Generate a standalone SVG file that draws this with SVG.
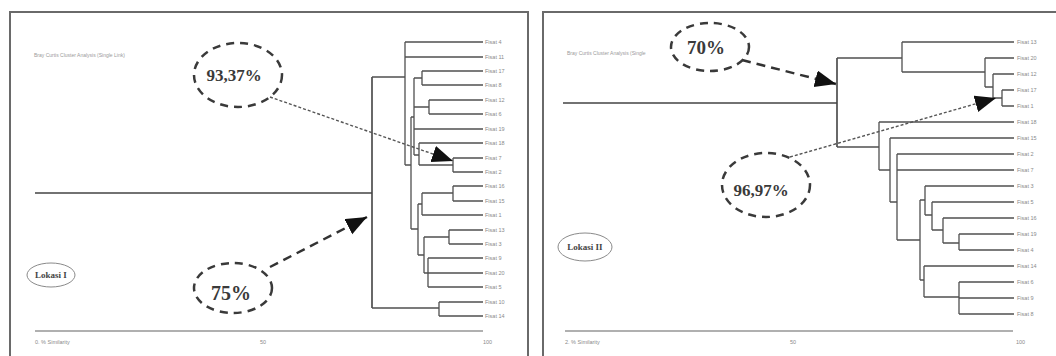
<svg xmlns="http://www.w3.org/2000/svg" width="1056" height="356" viewBox="0 0 1056 356">
<style>
.panel{fill:#fff;stroke:#6a6a6a;stroke-width:2}
.tree{fill:none;stroke:#505050;stroke-width:1.3}
.root{fill:none;stroke:#444;stroke-width:1.6}
.axis{fill:none;stroke:#b0b0b0;stroke-width:2}
.lbl{font-family:"Liberation Sans",Arial,sans-serif;font-size:5.5px;fill:#8a8a8a}
.small{font-family:"Liberation Sans",Arial,sans-serif;font-size:5px;fill:#9a9a9a}
.pct{font-family:"Liberation Serif","Times New Roman",serif;font-weight:bold;fill:#3a3a3a;text-anchor:middle}
.oval{fill:none;stroke:#3a3a3a;stroke-width:2.5;stroke-dasharray:8 6}
.lok{fill:#fff;stroke:#8a8a8a;stroke-width:1}
.lokt{font-family:"Liberation Serif","Times New Roman",serif;font-weight:bold;font-size:9px;fill:#444;text-anchor:middle}
.thick{fill:none;stroke:#333;stroke-width:2.5;stroke-dasharray:9 6}
.fine{fill:none;stroke:#555;stroke-width:1.4;stroke-dasharray:3 2}
</style>
<defs>
<marker id="ah" markerUnits="userSpaceOnUse" markerWidth="24" markerHeight="18" refX="21" refY="8.5" orient="auto">
<path d="M0,0 L21,8.5 L0,17 Z" fill="#111"/>
</marker>
</defs>
<rect width="1056" height="356" fill="#fff"/>

<g id="panel-left">
<rect class="panel" x="10" y="12" width="518" height="360"/>
<text class="small" x="34" y="57">Bray Curtis Cluster Analysis (Single Link)</text>
<line class="axis" x1="35" y1="331" x2="483" y2="331"/>
<text class="lbl" x="35" y="344">0.  % Similarity</text>
<text class="lbl" x="260" y="344">50</text>
<text class="lbl" x="483" y="344">100</text>
</g>

<g id="tree-left">
<path class="root" d="M35,193 H372 M372,77 V308"/>
<path class="tree" d="M372,77 H405 M405,42 V165 M405,42 H483 M405,57 H483 M405,165 H411
M411,117 V229 M411,117 H414 M414,78 V155
M414,78 H422 M422,71 V85 M422,71 H483 M422,85 H483
M414,107 H429 M429,100 V114 M429,100 H483 M429,114 H483
M414,129 H483
M414,155 H419 M419,143 V165 M419,143 H483 M419,165 H453 M453,158 V172 M453,158 H483 M453,172 H483
M411,229 H418 M418,204 V255
M418,204 H422 M422,193 V215 M422,215 H483 M422,193 H453 M453,186 V201 M453,186 H483 M453,201 H483
M418,255 H424 M424,237 V273 M424,237 H449 M449,230 V244 M449,230 H483 M449,244 H483
M424,273 H428 M428,258 V287 M428,258 H483 M428,273 H483 M428,287 H483
M372,308 H439 M439,302 V316 M439,302 H483 M439,316 H483"/>
<g class="lbl">
<text x="485" y="44">Fisat 4</text>
<text x="485" y="59">Fisat 11</text>
<text x="485" y="73">Fisat 17</text>
<text x="485" y="87">Fisat 8</text>
<text x="485" y="102">Fisat 12</text>
<text x="485" y="116">Fisat 6</text>
<text x="485" y="131">Fisat 19</text>
<text x="485" y="145">Fisat 18</text>
<text x="485" y="160">Fisat 7</text>
<text x="485" y="174">Fisat 2</text>
<text x="485" y="188">Fisat 16</text>
<text x="485" y="203">Fisat 15</text>
<text x="485" y="217">Fisat 1</text>
<text x="485" y="232">Fisat 13</text>
<text x="485" y="246">Fisat 3</text>
<text x="485" y="260">Fisat 9</text>
<text x="485" y="275">Fisat 20</text>
<text x="485" y="289">Fisat 5</text>
<text x="485" y="304">Fisat 10</text>
<text x="485" y="318">Fisat 14</text>
</g>
</g>

<g id="panel-right">
<rect class="panel" x="543" y="12" width="530" height="360"/>
<text class="small" x="567" y="55" font-size="4.6">Bray Curtis Cluster Analysis (Single</text>
<line class="axis" x1="565" y1="331" x2="1013" y2="331"/>
<text class="lbl" x="565" y="344">2.  % Similarity</text>
<text class="lbl" x="790" y="344">50</text>
<text class="lbl" x="1016" y="344">100</text>
</g>

<g id="tree-right">
<path class="root" d="M563,103 H837 M837,58 V147"/>
<path class="tree" d="M837,58 H902 M902,42 V72 M902,42 H1014 M902,72 H985 M985,58 V87 M985,58 H1014 M985,87 H993 M993,74 V98 M993,74 H1014 M993,98 H1002 M1002,90 V106 M1002,90 H1014 M1002,106 H1014
M837,147 H879 M879,122 V170 M879,122 H1014 M879,170 H890 M890,138 V202 M890,138 H1014 M890,202 H897
M897,154 V240 M897,154 H1014 M897,170 H1014 M897,240 H920 M920,200 V280
M920,200 H925 M925,186 V215 M925,186 H1014 M925,215 H932 M932,202 V230 M932,202 H1014 M932,230 H943 M943,218 V243 M943,218 H1014 M943,243 H959 M959,234 V250 M959,234 H1014 M959,250 H1014
M920,280 H924 M924,266 V297 M924,266 H1014 M924,297 H959 M959,282 V314 M959,282 H1014 M959,298 H1014 M959,314 H1014"/>
<g class="lbl">
<text x="1017" y="44">Fisat 13</text>
<text x="1017" y="60">Fisat 20</text>
<text x="1017" y="76">Fisat 12</text>
<text x="1017" y="92">Fisat 17</text>
<text x="1017" y="108">Fisat 1</text>
<text x="1017" y="124">Fisat 18</text>
<text x="1017" y="140">Fisat 15</text>
<text x="1017" y="156">Fisat 2</text>
<text x="1017" y="172">Fisat 7</text>
<text x="1017" y="188">Fisat 3</text>
<text x="1017" y="204">Fisat 5</text>
<text x="1017" y="220">Fisat 16</text>
<text x="1017" y="236">Fisat 19</text>
<text x="1017" y="252">Fisat 4</text>
<text x="1017" y="268">Fisat 14</text>
<text x="1017" y="284">Fisat 6</text>
<text x="1017" y="300">Fisat 9</text>
<text x="1017" y="316">Fisat 8</text>
</g>
</g>

<g id="connectors">
<line class="fine" x1="270" y1="97" x2="453" y2="161" marker-end="url(#ah)"/>
<line class="thick" x1="270" y1="267" x2="367" y2="217" marker-end="url(#ah)"/>
<line class="thick" x1="742" y1="60" x2="836" y2="84" marker-end="url(#ah)"/>
<line class="fine" x1="790" y1="157" x2="996" y2="98" marker-end="url(#ah)"/>
</g>

<g id="node-9337">
<ellipse class="oval" cx="238" cy="75" rx="44" ry="32"/>
<text class="pct" x="234" y="81" font-size="17">93,37%</text>
</g>
<g id="node-75">
<ellipse class="oval" cx="233" cy="288" rx="39" ry="25"/>
<text class="pct" x="231" y="300" font-size="20">75%</text>
</g>
<g id="node-lokasi1">
<ellipse class="lok" cx="51" cy="275" rx="24" ry="12"/>
<text class="lokt" x="51" y="278">Lokasi I</text>
</g>
<g id="node-70">
<ellipse class="oval" cx="710" cy="47" rx="39" ry="24"/>
<text class="pct" x="706" y="54" font-size="19">70%</text>
</g>
<g id="node-9697">
<ellipse class="oval" cx="766" cy="185" rx="44" ry="32"/>
<text class="pct" x="761" y="196" font-size="17">96,97%</text>
</g>
<g id="node-lokasi2">
<ellipse class="lok" cx="585" cy="247" rx="27" ry="14"/>
<text class="lokt" x="585" y="250">Lokasi II</text>
</g>
</svg>
